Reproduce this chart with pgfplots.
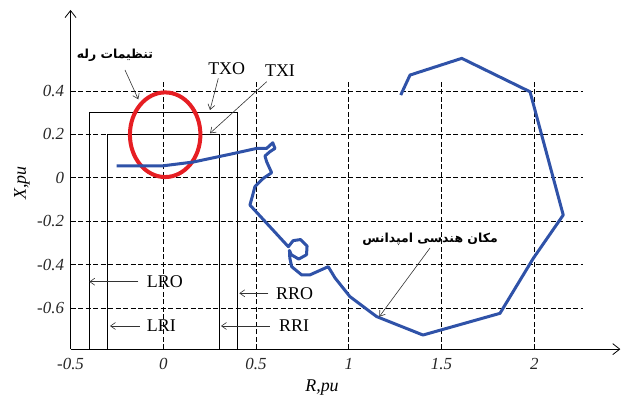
\documentclass[border=0pt]{standalone}
\usepackage{fontspec}
\setmainfont{Liberation Serif}
\newfontfamily\arabicfont[Script=Arabic]{DejaVu Sans}
\usepackage{pgfplots}
\pgfplotsset{compat=1.18}
\usetikzlibrary{arrows.meta}
\TeXXeTstate=1
\definecolor{trajblue}{RGB}{47,82,168}
\definecolor{mhored}{RGB}{230,30,35}
\begin{document}
\begin{tikzpicture}
\begin{axis}[
  x=185.5bp, y=217bp,
  xmin=-0.5, xmax=2.464, ymin=-0.79, ymax=0.773,
  axis lines=left,
  axis line style={line width=0.8bp, -{Straight Barb[length=7bp,width=11bp]}},
  xtick={-0.5,0,0.5,1,1.5,2},
  xticklabels={-0.5,0,0.5,1,1.5,2},
  ytick={-0.6,-0.4,-0.2,0,0.2,0.4},
  yticklabels={-0.6,-0.4,-0.2,0,0.2,0.4},
  major tick length=0pt,
  ticklabel style={font=\fontsize{17}{17}\selectfont\itshape, text=black!85},
  xticklabel style={anchor=north, yshift=-6bp},
  yticklabel style={anchor=east, xshift=-3bp},
  clip=false,
]
% grid
\pgfplotsinvokeforeach{-0.6,-0.4,-0.2,0,0.2,0.4}{
  \draw[black, line width=0.7bp, dash pattern=on 5bp off 2.5bp] (axis cs:-0.5,#1) -- (axis cs:2.26,#1);
}
\pgfplotsinvokeforeach{0,0.5,1,1.5,2}{
  \draw[black, line width=0.7bp, dash pattern=on 5bp off 2.5bp] (axis cs:#1,-0.79) -- (axis cs:#1,0.45);
}
% relay characteristics
\draw[black, line width=0.7bp] (axis cs:-0.4,-0.79) -- (axis cs:-0.4,0.3) -- (axis cs:0.4,0.3) -- (axis cs:0.4,-0.79);
\draw[black, line width=0.7bp] (axis cs:-0.3,-0.79) -- (axis cs:-0.3,0.2) -- (axis cs:0.3,0.2) -- (axis cs:0.3,-0.79);
% mho circle
\draw[mhored, line width=4bp] (axis cs:0.01,0.198) ellipse [x radius=0.19, y radius=0.195];
% impedance locus
\addplot[trajblue, line width=3bp, line join=round, mark=none] coordinates {
(-0.251,0.055) (0.0,0.055) (0.16,0.072) (0.36,0.108) (0.503,0.135) (0.557,0.135)
(0.59,0.161) (0.602,0.135) (0.575,0.12) (0.548,0.10) (0.557,0.074) (0.584,0.023)
(0.539,-0.003) (0.494,-0.041) (0.482,-0.08) (0.467,-0.126) (0.674,-0.318)
(0.70,-0.29) (0.74,-0.285) (0.775,-0.315) (0.772,-0.355) (0.73,-0.375) (0.69,-0.355)
(0.68,-0.335) (0.682,-0.37) (0.692,-0.41) (0.746,-0.448) (0.79,-0.448) (0.889,-0.41)
(0.926,-0.462) (1.006,-0.548) (1.15,-0.64) (1.40,-0.725) (1.815,-0.625)
(1.995,-0.371) (2.156,-0.172) (1.977,0.396) (1.609,0.55) (1.33,0.473) (1.28,0.381)
};
\coordinate (O) at (axis cs:-0.88032,0.81889);
\coordinate (BR) at (axis cs:2.49973,-1.01982);
\end{axis}
\begin{scope}[shift={(O)}, x=1bp, y=-1bp, font=\fontsize{18}{18}\selectfont,
  arr/.style={black!80, line width=0.6bp, -{Straight Barb[length=5bp,width=7bp]}}]
\node[inner sep=0] at (226.7,69) {TXO};
\node[inner sep=0] at (280,71) {TXI};
\node[inner sep=0, anchor=west] at (146.7,281.7) {LRO};
\node[inner sep=0, anchor=west] at (146.7,326) {LRI};
\node[inner sep=0, anchor=west] at (276,293.3) {RRO};
\node[inner sep=0, anchor=west] at (279,326) {RRI};
\node[inner sep=0] at (115,55) {\arabicfont\bfseries\fontsize{12.5}{12.5}\selectfont\beginR تنظیمات رله\endR};
\node[inner sep=0] at (430,239) {\arabicfont\bfseries\fontsize{12.5}{12.5}\selectfont\beginR مکان هندسی امپدانس\endR};
\node[inner sep=0] at (322,388) {\itshape R,pu};
\node[inner sep=0, rotate=90] at (22,183) {\itshape X,pu};
\draw[arr] (125,70) -- (138.3,99.3);
\draw[arr] (218.3,78.3) -- (210,110);
\draw[arr] (266.7,81.7) -- (210,133.3);
\draw[arr] (138.3,281.7) -- (89.3,281.7);
\draw[arr] (140,326) -- (110,326);
\draw[arr] (268.3,293.3) -- (239.3,293.3);
\draw[arr] (270,326) -- (221,326);
\draw[arr] (430,248) -- (379.3,316.7);
\end{scope}
\pgfresetboundingbox
\path[use as bounding box] (O) rectangle (BR);
\end{tikzpicture}
\end{document}
